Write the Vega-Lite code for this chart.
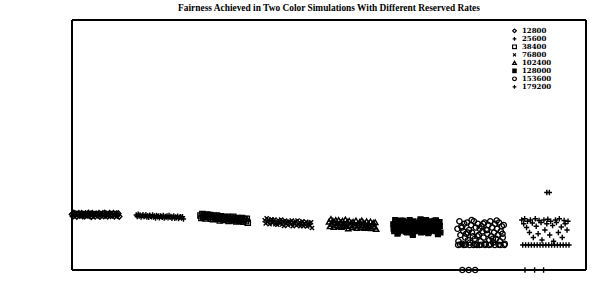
{
  "$schema": "https://vega.github.io/schema/vega-lite/v6.json",
  "autosize": "none",
  "width": 514,
  "height": 250,
  "padding": {"left": 72, "top": 20, "right": 11, "bottom": 25},
  "background": "white",
  "title": {
    "text": "Fairness Achieved in Two Color Simulations With Different Reserved Rates",
    "font": "Liberation Serif", "fontWeight": "bold", "fontSize": 9.4, "color": "black",
    "anchor": "middle", "offset": 6
  },
  "config": {
    "view": {"stroke": null},
    "axis": {
      "labelFont": "DejaVu Serif", "labelFontWeight": "bold", "labelFontSize": 7.5, "labelColor": "black",
      "titleFont": "DejaVu Serif", "titleFontWeight": "bold", "titleColor": "black",
      "domain": false, "tickColor": "black", "tickWidth": 1.2, "grid": false
    },
    "legend": {
      "labelFont": "DejaVu Serif", "labelFontWeight": "bold", "labelFontSize": 7, "labelColor": "black",
      "symbolStrokeColor": "black", "symbolStrokeWidth": 1.2, "symbolSize": 14, "rowPadding": 0
    }
  },
  "data": {"values": [
    {"rate":12800,"id":0,"fi":0.223},{"rate":12800,"id":3,"fi":0.215},{"rate":12800,"id":6,"fi":0.228},{"rate":12800,"id":9,"fi":0.219},{"rate":12800,"id":12,"fi":0.225},{"rate":12800,"id":15,"fi":0.214},{"rate":12800,"id":18,"fi":0.222},{"rate":12800,"id":21,"fi":0.227},{"rate":12800,"id":24,"fi":0.218},{"rate":12800,"id":27,"fi":0.220},
    {"rate":12800,"id":30,"fi":0.227},{"rate":12800,"id":33,"fi":0.216},{"rate":12800,"id":36,"fi":0.223},{"rate":12800,"id":39,"fi":0.215},{"rate":12800,"id":42,"fi":0.226},{"rate":12800,"id":45,"fi":0.221},{"rate":12800,"id":48,"fi":0.219},{"rate":12800,"id":51,"fi":0.228},{"rate":12800,"id":54,"fi":0.217},{"rate":12800,"id":57,"fi":0.224},
    {"rate":12800,"id":60,"fi":0.213},{"rate":12800,"id":63,"fi":0.227},{"rate":12800,"id":66,"fi":0.219},{"rate":12800,"id":69,"fi":0.223},{"rate":12800,"id":72,"fi":0.215},{"rate":12800,"id":75,"fi":0.225},{"rate":12800,"id":78,"fi":0.222},{"rate":12800,"id":81,"fi":0.218},{"rate":12800,"id":84,"fi":0.227},{"rate":12800,"id":87,"fi":0.214},
    {"rate":12800,"id":90,"fi":0.223},{"rate":12800,"id":93,"fi":0.220},{"rate":12800,"id":96,"fi":0.226},{"rate":12800,"id":99,"fi":0.216},{"rate":12800,"id":102,"fi":0.228},{"rate":12800,"id":105,"fi":0.219},{"rate":12800,"id":108,"fi":0.224},{"rate":12800,"id":111,"fi":0.215},{"rate":12800,"id":114,"fi":0.221},{"rate":12800,"id":117,"fi":0.227},
    {"rate":12800,"id":120,"fi":0.217},{"rate":12800,"id":123,"fi":0.223},{"rate":12800,"id":126,"fi":0.219},{"rate":12800,"id":129,"fi":0.227},{"rate":12800,"id":132,"fi":0.215},{"rate":12800,"id":135,"fi":0.222},{"rate":12800,"id":138,"fi":0.225},{"rate":12800,"id":141,"fi":0.218},{"rate":12800,"id":144,"fi":0.226},{"rate":12800,"id":147,"fi":0.214},

    {"rate":25600,"id":200,"fi":0.220},{"rate":25600,"id":203,"fi":0.214},{"rate":25600,"id":206,"fi":0.223},{"rate":25600,"id":209,"fi":0.216},{"rate":25600,"id":212,"fi":0.220},{"rate":25600,"id":215,"fi":0.212},{"rate":25600,"id":218,"fi":0.217},{"rate":25600,"id":221,"fi":0.221},{"rate":25600,"id":224,"fi":0.214},{"rate":25600,"id":227,"fi":0.216},
    {"rate":25600,"id":230,"fi":0.221},{"rate":25600,"id":233,"fi":0.212},{"rate":25600,"id":236,"fi":0.217},{"rate":25600,"id":239,"fi":0.211},{"rate":25600,"id":242,"fi":0.219},{"rate":25600,"id":245,"fi":0.215},{"rate":25600,"id":248,"fi":0.213},{"rate":25600,"id":251,"fi":0.220},{"rate":25600,"id":254,"fi":0.212},{"rate":25600,"id":257,"fi":0.216},
    {"rate":25600,"id":260,"fi":0.208},{"rate":25600,"id":263,"fi":0.218},{"rate":25600,"id":266,"fi":0.213},{"rate":25600,"id":269,"fi":0.216},{"rate":25600,"id":272,"fi":0.209},{"rate":25600,"id":275,"fi":0.216},{"rate":25600,"id":278,"fi":0.214},{"rate":25600,"id":281,"fi":0.211},{"rate":25600,"id":284,"fi":0.218},{"rate":25600,"id":287,"fi":0.208},
    {"rate":25600,"id":290,"fi":0.214},{"rate":25600,"id":293,"fi":0.212},{"rate":25600,"id":296,"fi":0.216},{"rate":25600,"id":299,"fi":0.209},{"rate":25600,"id":302,"fi":0.218},{"rate":25600,"id":305,"fi":0.211},{"rate":25600,"id":308,"fi":0.214},{"rate":25600,"id":311,"fi":0.207},{"rate":25600,"id":314,"fi":0.212},{"rate":25600,"id":317,"fi":0.216},
    {"rate":25600,"id":320,"fi":0.207},{"rate":25600,"id":323,"fi":0.212},{"rate":25600,"id":326,"fi":0.209},{"rate":25600,"id":329,"fi":0.215},{"rate":25600,"id":332,"fi":0.206},{"rate":25600,"id":335,"fi":0.211},{"rate":25600,"id":338,"fi":0.213},{"rate":25600,"id":341,"fi":0.208},{"rate":25600,"id":344,"fi":0.213},{"rate":25600,"id":347,"fi":0.204},

    {"rate":38400,"id":400,"fi":0.218},{"rate":38400,"id":403,"fi":0.208},{"rate":38400,"id":406,"fi":0.224},{"rate":38400,"id":409,"fi":0.213},{"rate":38400,"id":412,"fi":0.220},{"rate":38400,"id":415,"fi":0.206},{"rate":38400,"id":418,"fi":0.216},{"rate":38400,"id":421,"fi":0.222},{"rate":38400,"id":424,"fi":0.211},{"rate":38400,"id":427,"fi":0.213},
    {"rate":38400,"id":430,"fi":0.220},{"rate":38400,"id":433,"fi":0.205},{"rate":38400,"id":436,"fi":0.213},{"rate":38400,"id":439,"fi":0.203},{"rate":38400,"id":442,"fi":0.217},{"rate":38400,"id":445,"fi":0.210},{"rate":38400,"id":448,"fi":0.207},{"rate":38400,"id":451,"fi":0.218},{"rate":38400,"id":454,"fi":0.204},{"rate":38400,"id":457,"fi":0.212},
    {"rate":38400,"id":460,"fi":0.198},{"rate":38400,"id":463,"fi":0.215},{"rate":38400,"id":466,"fi":0.206},{"rate":38400,"id":469,"fi":0.211},{"rate":38400,"id":472,"fi":0.200},{"rate":38400,"id":475,"fi":0.212},{"rate":38400,"id":478,"fi":0.207},{"rate":38400,"id":481,"fi":0.202},{"rate":38400,"id":484,"fi":0.213},{"rate":38400,"id":487,"fi":0.196},
    {"rate":38400,"id":490,"fi":0.206},{"rate":38400,"id":493,"fi":0.203},{"rate":38400,"id":496,"fi":0.210},{"rate":38400,"id":499,"fi":0.198},{"rate":38400,"id":502,"fi":0.213},{"rate":38400,"id":505,"fi":0.200},{"rate":38400,"id":508,"fi":0.206},{"rate":38400,"id":511,"fi":0.194},{"rate":38400,"id":514,"fi":0.202},{"rate":38400,"id":517,"fi":0.208},
    {"rate":38400,"id":520,"fi":0.196},{"rate":38400,"id":523,"fi":0.204},{"rate":38400,"id":526,"fi":0.199},{"rate":38400,"id":529,"fi":0.208},{"rate":38400,"id":532,"fi":0.193},{"rate":38400,"id":535,"fi":0.201},{"rate":38400,"id":538,"fi":0.204},{"rate":38400,"id":541,"fi":0.195},{"rate":38400,"id":544,"fi":0.205},{"rate":38400,"id":547,"fi":0.189},

    {"rate":76800,"id":600,"fi":0.199},{"rate":76800,"id":603,"fi":0.186},{"rate":76800,"id":606,"fi":0.207},{"rate":76800,"id":609,"fi":0.192},{"rate":76800,"id":612,"fi":0.201},{"rate":76800,"id":615,"fi":0.183},{"rate":76800,"id":618,"fi":0.196},{"rate":76800,"id":621,"fi":0.203},{"rate":76800,"id":624,"fi":0.188},{"rate":76800,"id":627,"fi":0.191},
    {"rate":76800,"id":630,"fi":0.202},{"rate":76800,"id":633,"fi":0.183},{"rate":76800,"id":636,"fi":0.194},{"rate":76800,"id":639,"fi":0.181},{"rate":76800,"id":642,"fi":0.199},{"rate":76800,"id":645,"fi":0.191},{"rate":76800,"id":648,"fi":0.187},{"rate":76800,"id":651,"fi":0.202},{"rate":76800,"id":654,"fi":0.182},{"rate":76800,"id":657,"fi":0.194},
    {"rate":76800,"id":660,"fi":0.176},{"rate":76800,"id":663,"fi":0.198},{"rate":76800,"id":666,"fi":0.186},{"rate":76800,"id":669,"fi":0.193},{"rate":76800,"id":672,"fi":0.179},{"rate":76800,"id":675,"fi":0.194},{"rate":76800,"id":678,"fi":0.189},{"rate":76800,"id":681,"fi":0.183},{"rate":76800,"id":684,"fi":0.198},{"rate":76800,"id":687,"fi":0.175},
    {"rate":76800,"id":690,"fi":0.189},{"rate":76800,"id":693,"fi":0.185},{"rate":76800,"id":696,"fi":0.194},{"rate":76800,"id":699,"fi":0.178},{"rate":76800,"id":702,"fi":0.198},{"rate":76800,"id":705,"fi":0.182},{"rate":76800,"id":708,"fi":0.191},{"rate":76800,"id":711,"fi":0.175},{"rate":76800,"id":714,"fi":0.186},{"rate":76800,"id":717,"fi":0.195},
    {"rate":76800,"id":720,"fi":0.176},{"rate":76800,"id":723,"fi":0.187},{"rate":76800,"id":726,"fi":0.180},{"rate":76800,"id":729,"fi":0.193},{"rate":76800,"id":732,"fi":0.174},{"rate":76800,"id":735,"fi":0.184},{"rate":76800,"id":738,"fi":0.189},{"rate":76800,"id":741,"fi":0.178},{"rate":76800,"id":744,"fi":0.191},{"rate":76800,"id":747,"fi":0.168},

    {"rate":102400,"id":800,"fi":0.193},{"rate":102400,"id":803,"fi":0.175},{"rate":102400,"id":806,"fi":0.204},{"rate":102400,"id":809,"fi":0.184},{"rate":102400,"id":812,"fi":0.197},{"rate":102400,"id":815,"fi":0.172},{"rate":102400,"id":818,"fi":0.190},{"rate":102400,"id":821,"fi":0.200},{"rate":102400,"id":824,"fi":0.180},{"rate":102400,"id":827,"fi":0.186},
    {"rate":102400,"id":830,"fi":0.200},{"rate":102400,"id":833,"fi":0.175},{"rate":102400,"id":836,"fi":0.190},{"rate":102400,"id":839,"fi":0.172},{"rate":102400,"id":842,"fi":0.197},{"rate":102400,"id":845,"fi":0.186},{"rate":102400,"id":848,"fi":0.180},{"rate":102400,"id":851,"fi":0.202},{"rate":102400,"id":854,"fi":0.176},{"rate":102400,"id":857,"fi":0.193},
    {"rate":102400,"id":860,"fi":0.166},{"rate":102400,"id":863,"fi":0.197},{"rate":102400,"id":866,"fi":0.180},{"rate":102400,"id":869,"fi":0.189},{"rate":102400,"id":872,"fi":0.171},{"rate":102400,"id":875,"fi":0.193},{"rate":102400,"id":878,"fi":0.186},{"rate":102400,"id":881,"fi":0.177},{"rate":102400,"id":884,"fi":0.198},{"rate":102400,"id":887,"fi":0.168},
    {"rate":102400,"id":890,"fi":0.186},{"rate":102400,"id":893,"fi":0.180},{"rate":102400,"id":896,"fi":0.193},{"rate":102400,"id":899,"fi":0.171},{"rate":102400,"id":902,"fi":0.198},{"rate":102400,"id":905,"fi":0.177},{"rate":102400,"id":908,"fi":0.189},{"rate":102400,"id":911,"fi":0.168},{"rate":102400,"id":914,"fi":0.182},{"rate":102400,"id":917,"fi":0.195},
    {"rate":102400,"id":920,"fi":0.171},{"rate":102400,"id":923,"fi":0.185},{"rate":102400,"id":926,"fi":0.176},{"rate":102400,"id":929,"fi":0.194},{"rate":102400,"id":932,"fi":0.167},{"rate":102400,"id":935,"fi":0.182},{"rate":102400,"id":938,"fi":0.189},{"rate":102400,"id":941,"fi":0.173},{"rate":102400,"id":944,"fi":0.191},{"rate":102400,"id":947,"fi":0.164},

    {"rate":128000,"id":1000,"fi":0.183},{"rate":128000,"id":1003,"fi":0.155},{"rate":128000,"id":1006,"fi":0.200},{"rate":128000,"id":1009,"fi":0.169},{"rate":128000,"id":1012,"fi":0.189},{"rate":128000,"id":1015,"fi":0.150},{"rate":128000,"id":1018,"fi":0.178},{"rate":128000,"id":1021,"fi":0.195},{"rate":128000,"id":1024,"fi":0.164},{"rate":128000,"id":1027,"fi":0.172},
    {"rate":128000,"id":1030,"fi":0.197},{"rate":128000,"id":1033,"fi":0.158},{"rate":128000,"id":1036,"fi":0.181},{"rate":128000,"id":1039,"fi":0.153},{"rate":128000,"id":1042,"fi":0.192},{"rate":128000,"id":1045,"fi":0.175},{"rate":128000,"id":1048,"fi":0.167},{"rate":128000,"id":1051,"fi":0.200},{"rate":128000,"id":1054,"fi":0.161},{"rate":128000,"id":1057,"fi":0.186},
    {"rate":128000,"id":1060,"fi":0.147},{"rate":128000,"id":1063,"fi":0.195},{"rate":128000,"id":1066,"fi":0.169},{"rate":128000,"id":1069,"fi":0.183},{"rate":128000,"id":1072,"fi":0.155},{"rate":128000,"id":1075,"fi":0.189},{"rate":128000,"id":1078,"fi":0.178},{"rate":128000,"id":1081,"fi":0.164},{"rate":128000,"id":1084,"fi":0.197},{"rate":128000,"id":1087,"fi":0.150},
    {"rate":128000,"id":1090,"fi":0.181},{"rate":128000,"id":1093,"fi":0.172},{"rate":128000,"id":1096,"fi":0.192},{"rate":128000,"id":1099,"fi":0.158},{"rate":128000,"id":1102,"fi":0.200},{"rate":128000,"id":1105,"fi":0.167},{"rate":128000,"id":1108,"fi":0.186},{"rate":128000,"id":1111,"fi":0.153},{"rate":128000,"id":1114,"fi":0.175},{"rate":128000,"id":1117,"fi":0.195},
    {"rate":128000,"id":1120,"fi":0.161},{"rate":128000,"id":1123,"fi":0.183},{"rate":128000,"id":1126,"fi":0.169},{"rate":128000,"id":1129,"fi":0.197},{"rate":128000,"id":1132,"fi":0.155},{"rate":128000,"id":1135,"fi":0.178},{"rate":128000,"id":1138,"fi":0.189},{"rate":128000,"id":1141,"fi":0.164},{"rate":128000,"id":1144,"fi":0.192},{"rate":128000,"id":1147,"fi":0.150},
    {"rate":128000,"id":1001,"fi":0.165},{"rate":128000,"id":1007,"fi":0.190},{"rate":128000,"id":1013,"fi":0.145},{"rate":128000,"id":1019,"fi":0.172},{"rate":128000,"id":1025,"fi":0.198},{"rate":128000,"id":1031,"fi":0.158},{"rate":128000,"id":1037,"fi":0.183},{"rate":128000,"id":1043,"fi":0.150},{"rate":128000,"id":1049,"fi":0.193},{"rate":128000,"id":1055,"fi":0.168},
    {"rate":128000,"id":1061,"fi":0.140},{"rate":128000,"id":1067,"fi":0.187},{"rate":128000,"id":1073,"fi":0.176},{"rate":128000,"id":1079,"fi":0.160},{"rate":128000,"id":1085,"fi":0.203},{"rate":128000,"id":1091,"fi":0.152},{"rate":128000,"id":1097,"fi":0.180},{"rate":128000,"id":1103,"fi":0.195},{"rate":128000,"id":1109,"fi":0.147},{"rate":128000,"id":1115,"fi":0.170},
    {"rate":128000,"id":1121,"fi":0.188},{"rate":128000,"id":1127,"fi":0.157},{"rate":128000,"id":1133,"fi":0.199},{"rate":128000,"id":1139,"fi":0.143},{"rate":128000,"id":1145,"fi":0.176},

    {"rate":153600,"id":1200,"fi":0.165},{"rate":153600,"id":1203,"fi":0.115},{"rate":153600,"id":1206,"fi":0.195},{"rate":153600,"id":1209,"fi":0.140},{"rate":153600,"id":1212,"fi":0.175},{"rate":153600,"id":1215,"fi":0.105},{"rate":153600,"id":1218,"fi":0.155},{"rate":153600,"id":1221,"fi":0.185},{"rate":153600,"id":1224,"fi":0.130},{"rate":153600,"id":1227,"fi":0.145},
    {"rate":153600,"id":1230,"fi":0.190},{"rate":153600,"id":1233,"fi":0.120},{"rate":153600,"id":1236,"fi":0.160},{"rate":153600,"id":1239,"fi":0.110},{"rate":153600,"id":1242,"fi":0.180},{"rate":153600,"id":1245,"fi":0.150},{"rate":153600,"id":1248,"fi":0.135},{"rate":153600,"id":1251,"fi":0.195},{"rate":153600,"id":1254,"fi":0.125},{"rate":153600,"id":1257,"fi":0.170},
    {"rate":153600,"id":1260,"fi":0.100},{"rate":153600,"id":1263,"fi":0.185},{"rate":153600,"id":1266,"fi":0.140},{"rate":153600,"id":1269,"fi":0.165},{"rate":153600,"id":1272,"fi":0.115},{"rate":153600,"id":1275,"fi":0.175},{"rate":153600,"id":1278,"fi":0.155},{"rate":153600,"id":1281,"fi":0.130},{"rate":153600,"id":1284,"fi":0.190},{"rate":153600,"id":1287,"fi":0.105},
    {"rate":153600,"id":1290,"fi":0.160},{"rate":153600,"id":1293,"fi":0.145},{"rate":153600,"id":1296,"fi":0.180},{"rate":153600,"id":1299,"fi":0.120},{"rate":153600,"id":1302,"fi":0.195},{"rate":153600,"id":1305,"fi":0.135},{"rate":153600,"id":1308,"fi":0.170},{"rate":153600,"id":1311,"fi":0.110},{"rate":153600,"id":1314,"fi":0.150},{"rate":153600,"id":1317,"fi":0.185},
    {"rate":153600,"id":1320,"fi":0.125},{"rate":153600,"id":1323,"fi":0.165},{"rate":153600,"id":1326,"fi":0.140},{"rate":153600,"id":1329,"fi":0.190},{"rate":153600,"id":1332,"fi":0.115},{"rate":153600,"id":1335,"fi":0.155},{"rate":153600,"id":1338,"fi":0.175},{"rate":153600,"id":1341,"fi":0.130},{"rate":153600,"id":1344,"fi":0.180},{"rate":153600,"id":1347,"fi":0.105},
    {"rate":153600,"id":1202,"fi":0.100},{"rate":153600,"id":1208,"fi":0.102},{"rate":153600,"id":1214,"fi":0.170},{"rate":153600,"id":1220,"fi":0.100},{"rate":153600,"id":1226,"fi":0.101},{"rate":153600,"id":1232,"fi":0.150},{"rate":153600,"id":1238,"fi":0.100},{"rate":153600,"id":1244,"fi":0.200},{"rate":153600,"id":1250,"fi":0.100},{"rate":153600,"id":1256,"fi":0.103},
    {"rate":153600,"id":1262,"fi":0.135},{"rate":153600,"id":1268,"fi":0.100},{"rate":153600,"id":1274,"fi":0.101},{"rate":153600,"id":1280,"fi":0.185},{"rate":153600,"id":1286,"fi":0.100},{"rate":153600,"id":1292,"fi":0.160},{"rate":153600,"id":1298,"fi":0.100},{"rate":153600,"id":1304,"fi":0.102},{"rate":153600,"id":1310,"fi":0.125},{"rate":153600,"id":1316,"fi":0.100},
    {"rate":153600,"id":1322,"fi":0.198},{"rate":153600,"id":1328,"fi":0.101},{"rate":153600,"id":1334,"fi":0.100},{"rate":153600,"id":1340,"fi":0.145},{"rate":153600,"id":1346,"fi":0.100},
    {"rate":153600,"id":1215,"fi":0},{"rate":153600,"id":1235,"fi":0},{"rate":153600,"id":1255,"fi":0},

    {"rate":179200,"id":1400,"fi":0.200},{"rate":179200,"id":1403,"fi":0.100},{"rate":179200,"id":1406,"fi":0.185},{"rate":179200,"id":1409,"fi":0.205},{"rate":179200,"id":1412,"fi":0.100},{"rate":179200,"id":1415,"fi":0.170},{"rate":179200,"id":1418,"fi":0.195},{"rate":179200,"id":1421,"fi":0.100},{"rate":179200,"id":1424,"fi":0.150},{"rate":179200,"id":1427,"fi":0.200},
    {"rate":179200,"id":1430,"fi":0.100},{"rate":179200,"id":1433,"fi":0.188},{"rate":179200,"id":1436,"fi":0.130},{"rate":179200,"id":1439,"fi":0.100},{"rate":179200,"id":1442,"fi":0.205},{"rate":179200,"id":1445,"fi":0.175},{"rate":179200,"id":1448,"fi":0.100},{"rate":179200,"id":1451,"fi":0.145},{"rate":179200,"id":1454,"fi":0.198},{"rate":179200,"id":1457,"fi":0.100},
    {"rate":179200,"id":1460,"fi":0.190},{"rate":179200,"id":1463,"fi":0.120},{"rate":179200,"id":1466,"fi":0.100},{"rate":179200,"id":1469,"fi":0.200},{"rate":179200,"id":1472,"fi":0.160},{"rate":179200,"id":1475,"fi":0.100},{"rate":179200,"id":1478,"fi":0.185},{"rate":179200,"id":1481,"fi":0.203},{"rate":179200,"id":1484,"fi":0.100},{"rate":179200,"id":1487,"fi":0.140},
    {"rate":179200,"id":1490,"fi":0.195},{"rate":179200,"id":1493,"fi":0.100},{"rate":179200,"id":1496,"fi":0.178},{"rate":179200,"id":1499,"fi":0.115},{"rate":179200,"id":1502,"fi":0.100},{"rate":179200,"id":1505,"fi":0.200},{"rate":179200,"id":1508,"fi":0.190},{"rate":179200,"id":1511,"fi":0.100},{"rate":179200,"id":1514,"fi":0.150},{"rate":179200,"id":1517,"fi":0.205},
    {"rate":179200,"id":1520,"fi":0.100},{"rate":179200,"id":1523,"fi":0.172},{"rate":179200,"id":1526,"fi":0.130},{"rate":179200,"id":1529,"fi":0.100},{"rate":179200,"id":1532,"fi":0.198},{"rate":179200,"id":1535,"fi":0.185},{"rate":179200,"id":1538,"fi":0.100},{"rate":179200,"id":1541,"fi":0.160},{"rate":179200,"id":1544,"fi":0.195},{"rate":179200,"id":1547,"fi":0.100},
    {"rate":179200,"id":1478,"fi":0.31},{"rate":179200,"id":1486,"fi":0.31},
    {"rate":179200,"id":1410,"fi":0},{"rate":179200,"id":1440,"fi":0},{"rate":179200,"id":1468,"fi":0}
  ]},
  "layer": [
    {
      "mark": {"type": "point", "filled": false, "color": "black", "opacity": 1, "strokeWidth": 1.4, "size": 28},
      "encoding": {
        "x": {"field": "id", "type": "quantitative",
              "scale": {"domain": [0, 1600]},
              "axis": {"values": [0,200,400,600,800,1000,1200,1400,1600], "format": "d", "title": "Simulation ID",
                       "tickSize": -3, "titleFontSize": 8.5, "titlePadding": 0, "labelPadding": 7}},
        "y": {"field": "fi", "type": "quantitative",
              "scale": {"domain": [0, 1]},
              "axis": {"values": [0,0.2,0.4,0.6,0.8,1], "format": "~g", "title": "Fairness Index",
                       "titleFont": "Liberation Serif", "titleFontSize": 7.5, "titlePadding": 32, "tickSize": -4, "labelPadding": 14}},
        "shape": {"field": "rate", "type": "nominal",
                  "scale": {"domain": [12800,25600,38400,76800,102400,128000,153600,179200],
                            "range": ["diamond", "M-1,0L1,0M0,-1L0,1", "square", "M-0.8,-0.8L0.8,0.8M-0.8,0.8L0.8,-0.8", "triangle-up", "M-0.9,-0.9L0.9,-0.9L0.9,0.9L-0.9,0.9ZM-0.9,-0.45L0.9,-0.45M-0.9,0L0.9,0M-0.9,0.45L0.9,0.45", "circle", "M-1,0L1,0M0,-1L0,1"]},
                  "legend": {"title": null, "orient": "none", "legendX": 439, "legendY": 8, "clipHeight": 5.7}}
      }
    },
    {
      "mark": {"type": "rule", "color": "black", "strokeWidth": 1.3},
      "encoding": {"y": {"datum": 0, "type": "quantitative", "axis": null}}
    },
    {
      "mark": {"type": "rule", "color": "black", "strokeWidth": 1.3},
      "encoding": {"y": {"datum": 1, "type": "quantitative", "axis": null}}
    },
    {
      "mark": {"type": "rule", "color": "black", "strokeWidth": 1.3},
      "encoding": {"x": {"datum": 0, "type": "quantitative", "axis": null}}
    },
    {
      "mark": {"type": "rule", "color": "black", "strokeWidth": 1.3},
      "encoding": {"x": {"datum": 1600, "type": "quantitative", "axis": null}}
    }
  ]
}
